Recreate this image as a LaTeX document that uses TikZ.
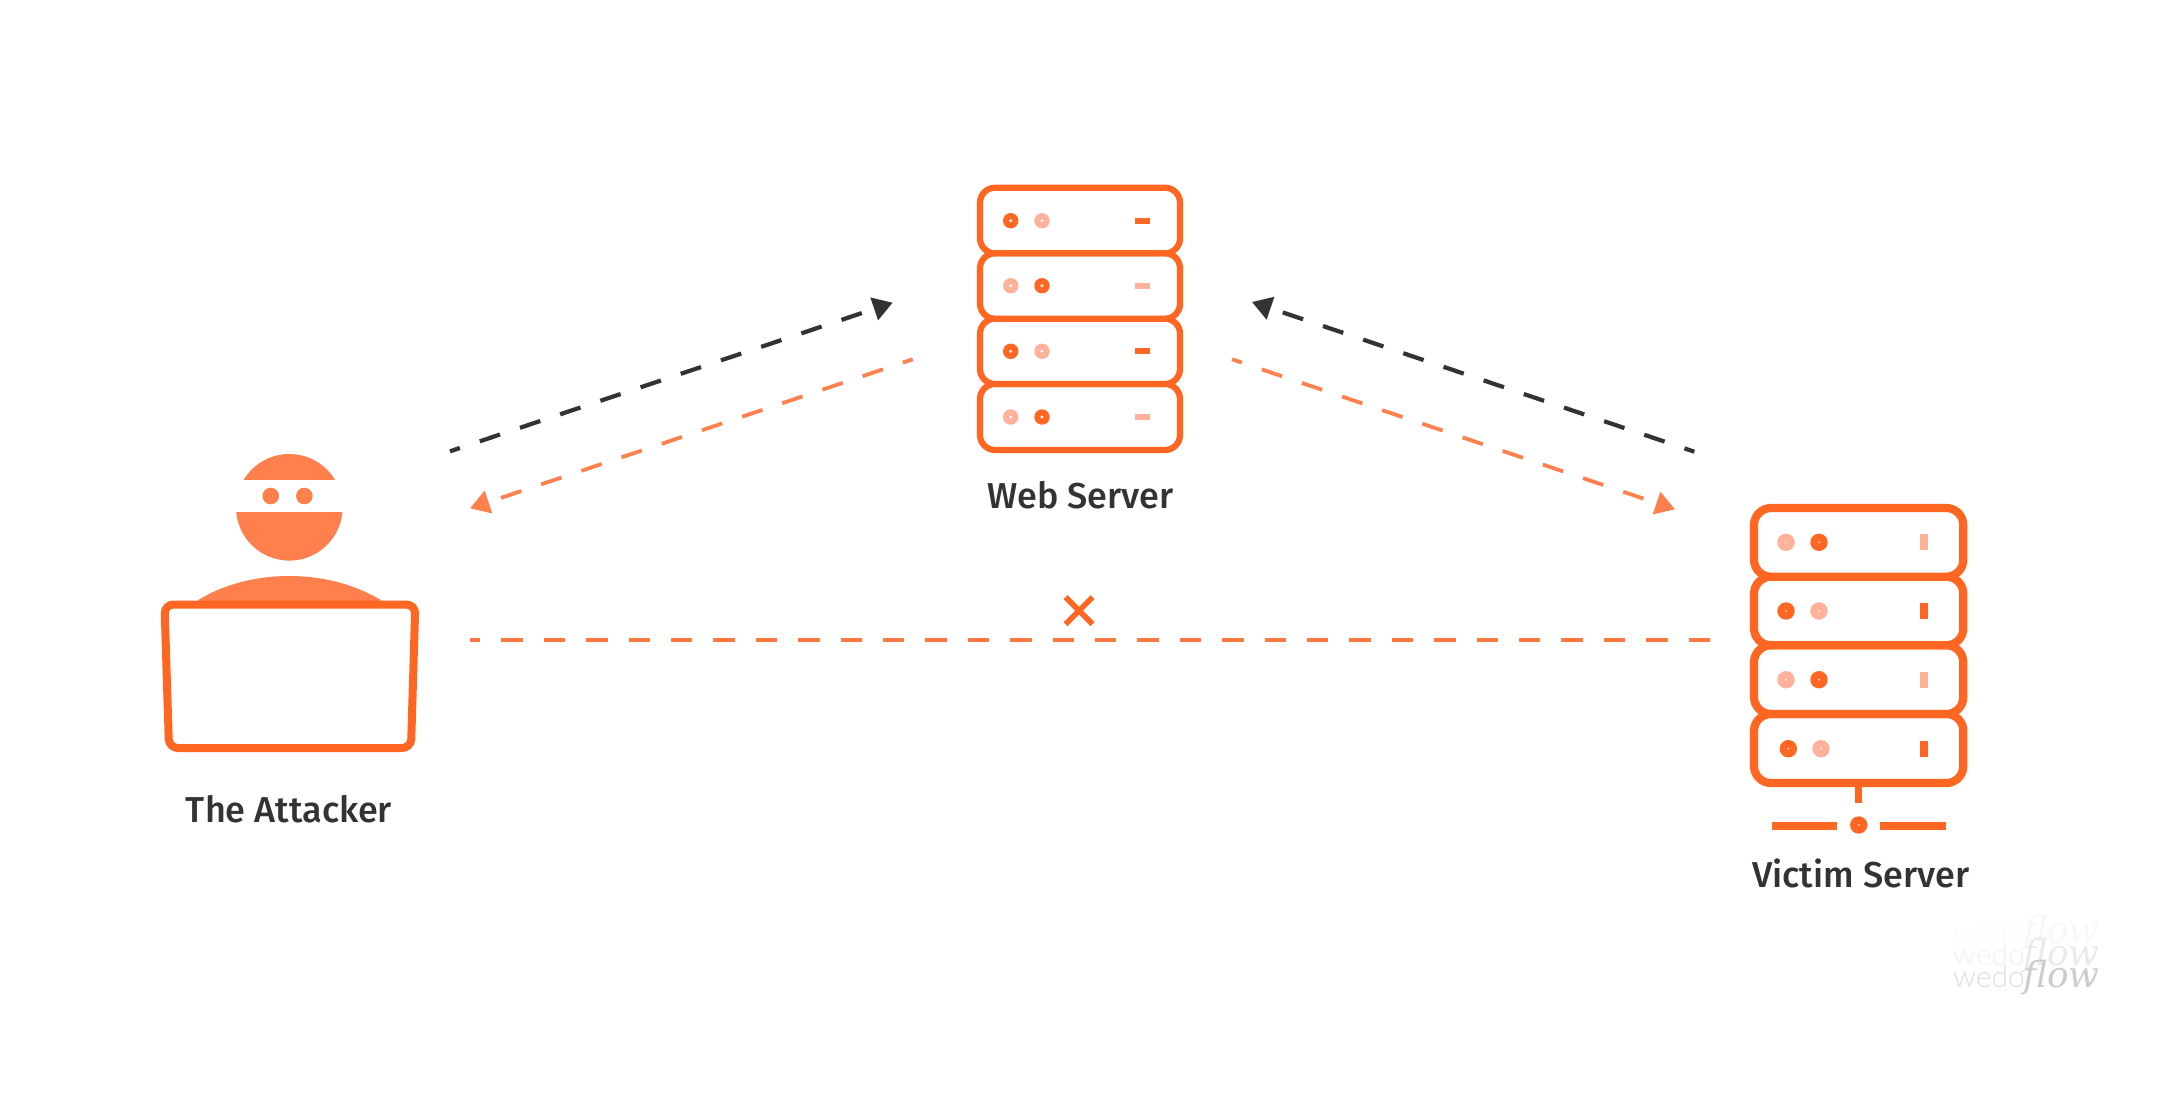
\documentclass[tikz,border=0pt]{standalone}
\usepackage{fontspec}
\setmainfont{Liberation Sans}
\newfontfamily\capfont{Fira Sans}[UprightFont={* Medium}]
\newfontfamily\wmlight{Lato Light}
\newfontfamily\wmscript{DejaVu Serif}
\usetikzlibrary{arrows.meta}
\definecolor{strokeor}{HTML}{FF6622}
\definecolor{softor}{HTML}{FF804D}
\definecolor{paleor}{HTML}{FFB199}
\definecolor{inkdark}{HTML}{333333}
\tikzset{
  caption/.style={font=\capfont\fontsize{#1}{40}\selectfont, text=inkdark, anchor=base, inner sep=0pt},
  caption/.default=36,
  webrow/.style={draw=strokeor, line width=6.2pt, fill=white, rounded corners=15pt},
  vicrow/.style={draw=strokeor, line width=8.2pt, fill=white, rounded corners=17pt},
  flowdash/.style={line width=#1, dash pattern=on 21.4pt off 21pt, dash phase=11pt},
  flowdash/.default=3.6pt,
  blackflow/.style={flowdash=4.2pt, draw=inkdark, -{Triangle[length=19.5pt,width=23pt,fill=inkdark]}},
  orangeflow/.style={flowdash=3.8pt, draw=softor, -{Triangle[length=19.5pt,width=23pt,fill=softor]}},
  blockflow/.style={flowdash=4.3pt, draw=softor!70!strokeor},
  wmark/.style={anchor=base west, inner sep=0pt},
}
\begin{document}
\begin{tikzpicture}[x=1pt,y=-1pt]
\useasboundingbox (0,0) rectangle (2160,1094);
\fill[white] (0,0) rectangle (2160,1094);

% attacker
\begin{scope}\clip (230,440) rectangle (350,479.3); \fill[softor] (289.3,507.3) circle[radius=53.3pt]; \end{scope}
\begin{scope}\clip (230,512.7) rectangle (350,570); \fill[softor] (289.3,507.3) circle[radius=53.3pt]; \end{scope}
\fill[softor] (270.7,496) circle[radius=8.3pt];
\fill[softor] (304.3,496) circle[radius=8.3pt];
\fill[softor] (198.3,600) .. controls (250,568) and (328,568) .. (380.7,600) -- (380.7,606) -- (198.3,606) -- cycle;
\draw[draw=strokeor, line width=8pt, fill=white, rounded corners=9pt]
  (164.5,604.5) -- (415.3,604.5) -- (411,748) -- (169,748) -- cycle;
\node[caption] (attacker) at (289,822.6) {The Attacker};

% web server
\foreach \yt/\yb in {384/450, 318.7/384, 253.3/318.7, 187.7/253.3}
  \draw[webrow] (980,\yt) rectangle (1180,\yb);
\foreach \y/\ca/\cb/\cc in {220.7/strokeor/paleor/strokeor, 285.7/paleor/strokeor/paleor, 351.3/strokeor/paleor/strokeor, 417/paleor/strokeor/paleor}{
  \fill[\ca] (1010.7,\y) circle[radius=7.7pt];
  \fill[white] (1010.7,\y) circle[radius=1.6pt];
  \fill[\cb] (1042,\y) circle[radius=7.7pt];
  \fill[white] (1042,\y) circle[radius=1.6pt];
  \fill[\cc] (1135,\y-3) rectangle (1150,\y+3);
}
\node[caption] (web) at (1080.5,508.6) {Web Server};

% victim server
\foreach \yt/\yb in {714/783, 645.3/714, 576.7/645.3, 508/576.7}
  \draw[vicrow] (1754,\yt) rectangle (1963.3,\yb);
\foreach \y/\xa/\xb/\ca/\cb/\cc in {542.3/1786/1819/paleor/strokeor/paleor, 611/1786/1819/strokeor/paleor/strokeor, 679.7/1786/1819/paleor/strokeor/paleor, 748.7/1788.3/1821/strokeor/paleor/strokeor}{
  \fill[\ca] (\xa,\y) circle[radius=8.7pt];
  \fill[white] (\xa,\y) circle[radius=0.9pt];
  \fill[\cb] (\xb,\y) circle[radius=8.7pt];
  \fill[white] (\xb,\y) circle[radius=0.9pt];
  \fill[\cc] (1920,\y-8) rectangle (1928,\y+8);
}
\fill[strokeor] (1855,786) rectangle (1862.3,803.3);
\fill[strokeor] (1772,822.3) rectangle (1836.7,830);
\fill[strokeor] (1880.3,822.3) rectangle (1945.7,830);
\fill[strokeor] (1858.7,825) circle[radius=8.7pt];
\fill[white] (1858.7,825) circle[radius=0.9pt];
\node[caption] (victim) at (1860.7,887.6) {Victim Server};

% connector ends
\coordinate (a1) at (450,451.3);
\coordinate (a2) at (892.7,302.7);
\coordinate (b1) at (912.7,359.3);
\coordinate (b2) at (470,508.3);
\coordinate (c1) at (1694.3,451.7);
\coordinate (c2) at (1252,302);
\coordinate (d1) at (1232,359.3);
\coordinate (d2) at (1675,509.3);
\coordinate (e1) at (470,639.7);
\coordinate (e2) at (1710,639.7);
\draw[blackflow] (a1) -- (a2);
\draw[orangeflow] (b1) -- (b2);
\draw[blackflow] (c1) -- (c2);
\draw[orangeflow] (d1) -- (d2);
\draw[blockflow] (e1) -- (e2);

% cross
\coordinate (x0) at (1079,610.7);
\draw[strokeor, line width=5.6pt] ([shift={(-13.5,-13.5)}]x0) -- ([shift={(13.5,13.5)}]x0);
\draw[strokeor, line width=5.6pt] ([shift={(-13.5,13.5)}]x0) -- ([shift={(13.5,-13.5)}]x0);

% watermark
\foreach \by/\op/\nm in {942/0.12/wa, 965/0.4/wb, 987/1/wc}{
  \node[wmark, text=black!13, opacity=\op, font=\wmlight\fontsize{30}{32}\selectfont] (\nm1) at (1953,\by) {wedo};
  \node[wmark, text=black!20, opacity=\op, font=\wmscript\itshape\fontsize{36}{38}\selectfont] (\nm2) at (2023,\by) {flow};
}
\end{tikzpicture}
\end{document}
